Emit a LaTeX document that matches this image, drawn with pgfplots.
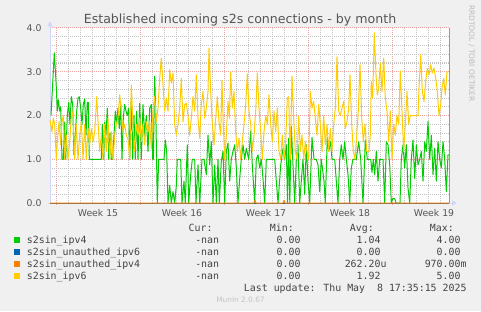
\documentclass[border=0pt]{standalone}
\usepackage{pgfplots}
\pgfplotsset{compat=1.18}
\usepackage{fontspec}
\setmainfont{DejaVu Sans}
\newfontfamily\monof{DejaVu Sans Mono}[WordSpace={1,0,0}]
\usetikzlibrary{arrows.meta}
\definecolor{bg}{HTML}{F0F0F0}
\definecolor{fontc}{HTML}{555555}
\definecolor{legc}{HTML}{444444}
\definecolor{rrdc}{HTML}{BBBBBB}
\definecolor{footc}{HTML}{C4C4C4}
\definecolor{mgrid}{RGB}{240,165,165}
\definecolor{mingrid}{RGB}{195,195,195}
\definecolor{axisc}{HTML}{CFD6F8}
\definecolor{cgreen}{HTML}{00CC00}
\definecolor{cblue}{HTML}{0066B3}
\definecolor{corange}{HTML}{FF8000}
\definecolor{cyellow}{HTML}{FFCC00}
\begin{document}
\begin{tikzpicture}
\path[use as bounding box] (0,0) rectangle (481pt,311pt);
\fill[bg] (0,0) rectangle (481pt,311pt);
\begin{axis}[
  at={(50pt,108pt)}, anchor=south west,
  scale only axis, width=399pt, height=175pt,
  xmin=50, xmax=449, ymin=0, ymax=4,
  clip=false,
  axis line style={draw=none},
  axis background/.style={fill=white},
  tick pos=left,
  tick align=outside,
  xtick={56,140,224,308,392}, xticklabels={},
  minor xtick={68,80,92,104,116,128,152,164,176,188,200,212,236,248,260,272,284,296,320,332,344,356,368,380,404,416,428,440},
  extra x ticks={98,182,266,350,434},
  extra x tick labels={Week 15,Week 16,Week 17,Week 18,Week 19},
  extra x tick style={grid=none, major tick length=0pt},
  ytick={0,1,2,3,4}, yticklabels={0.0,1.0,2.0,3.0,4.0},
  minor ytick={0.2,0.4,0.6,0.8,1.2,1.4,1.6,1.8,2.2,2.4,2.6,2.8,3.2,3.4,3.6,3.8},
  grid=both,
  major grid style={draw=mgrid, line width=1pt, dash pattern=on 1pt off 1pt},
  minor grid style={draw=mingrid, line width=1pt, dash pattern=on 1pt off 1pt},
  major tick length=2pt, minor tick length=0pt,
  major tick style={draw=mgrid, line width=1pt},
  ytick style={draw=none},
  xticklabel style={font=\fontsize{9.3}{11}\selectfont, text=fontc, yshift=-2.5pt},
  yticklabel style={font=\fontsize{9.3}{11}\selectfont, text=fontc, xshift=-3pt},
  every axis plot/.append style={line width=1pt, line join=round},
  no markers,
]
\draw[axisc, line width=1pt, -{Triangle[length=5pt,width=5pt]}] (axis cs:50,0) -- (axis cs:50,4.15);
\draw[axisc, line width=1pt, -{Triangle[length=5pt,width=5pt]}] (axis cs:48,0) -- (axis cs:457,0);
\draw[gray!80, line width=1pt] (axis cs:449,0) -- (axis cs:449,4);
% s2sin_ipv4
\addplot[cgreen] coordinates {
(51,2.0)(54.3,3.43)(56.3,2.66)(57.3,2.1)(58.3,2.36)(59.7,2.1)(60.7,2.2)(62,1.0)(63.3,1.0)(64.7,1.85)(65.7,1.0)(67.3,2.0)(68.7,2.3)(70,1.8)(71.3,2.43)(72.7,2.25)(74,1.1)(75.3,1.55)(76.7,2.1)(78,2.4)(79.3,2.43)(80.7,2.17)(82,1.8)(83.3,2.25)(84.7,2.38)(86,1.55)(87.3,2.3)(88.3,2.3)(89.3,1.0)(101.3,1.0)(102.3,1.8)(103.7,1.0)(104.7,1.85)(106,1.55)(107.3,2.17)(108.7,1.0)(110,1.6)(111.3,1.0)(112.7,1.0)(114,1.55)(115.3,2.1)(116.7,1.8)(118,2.17)(119.3,1.7)(120.7,2.3)(122,1.0)(123.3,1.95)(124.7,2.25)(126,2.1)(127.3,2.0)(128.7,2.17)(129.7,1.0)(131.3,2.36)(132.7,1.0)(134,2.0)(135.3,1.0)(136.7,2.1)(138,1.0)(139.7,2.28)(141.3,1.0)(143,2.25)(144.7,1.55)(146.3,2.0)(148,1.18)(149.7,2.17)(151.3,2.25)(152.7,1.0)(153.3,1.0)(154.7,2.9)(156,1.8)(157.3,0)(158.7,1.0)(164,1.0)(165.3,1.44)(166.7,1.18)(168,0)(169.7,0.4)(171.3,0)(173,0.26)(174.7,0)(176.3,0.4)(177.3,1.0)(180.7,1.0)(182,0)(184,0.5)(185.3,0)(187.3,1.33)(188.7,0)(190.7,0.65)(192.3,1.0)(194.7,1.0)(196,0)(198,0.87)(199.7,0)(202,1.0)(204,1.0)(206.3,0.65)(208,1.55)(209.7,0.87)(211.3,1.4)(213,0)(214.7,0.87)(216.3,0)(218,1.0)(219.3,0)(221.3,0.95)(223,1.18)(224.7,0)(226.3,1.18)(228,1.37)(229.7,0.5)(231.3,1.0)(233,1.18)(234.7,1.33)(236.3,0.8)(238,0)(239.7,0.56)(241.3,1.0)(243,1.33)(244.7,1.0)(246.3,1.25)(248.7,1.0)(250.7,1.65)(252.3,0.87)(254.7,0)(256.3,1.0)(258,1.1)(259.7,0.8)(261.3,1.0)(263,0.56)(264.7,0)(266.3,1.0)(274.7,1.0)(276.3,0.5)(278,0)(280.7,0.87)(283,1.25)(284.7,1.0)(286.3,1.33)(287.5,0)(288.7,1.48)(289.8,0)(291.3,1.75)(293,0.87)(294.7,0)(296.3,1.0)(298,1.33)(299.7,0)(301.3,0.5)(303,1.0)(304.7,0.2)(306.3,1.33)(308,0.5)(309.7,0)(312,1.5)(314,1.0)(316.3,1.0)(318,0.87)(319.7,0.26)(321.3,1.0)(324,0.5)(325.3,0)(327.3,1.5)(328.7,1.18)(330.7,1.4)(332,1.0)(334.7,1.0)(336.3,0.5)(338,0)(339.7,1.0)(341.3,1.33)(343,1.0)(344.7,1.4)(346.3,1.0)(348,0.65)(349.7,0)(351.3,0.8)(353,1.0)(356.3,1.0)(358.7,1.4)(360.7,1.0)(363,0)(365.3,1.44)(367.3,1.0)(370.7,1.0)(372,0.7)(373.3,1.0)(374.7,0.65)(376.3,1.18)(378,0.5)(379.7,1.0)(383,1.0)(384.7,0)(386.3,1.4)(388,1.33)(389.7,0.87)(391.3,0)(392.7,0.1)(394.7,0.1)(396,0)(400,0)(401.3,1.0)(403,1.33)(404.7,0.8)(406.3,1.33)(408,0.34)(409.7,0)(411.3,1.0)(413,1.44)(414.7,0.56)(416.3,1.33)(418,0.87)(419.7,1.0)(421.3,1.18)(423,0.5)(424.7,1.4)(426.3,1.18)(428,1.86)(429.7,1.0)(431.3,1.55)(433,0.65)(434.7,1.25)(436.3,0.5)(438,1.4)(439.7,1.0)(441.3,0.8)(443,1.4)(444.7,1.0)(446.3,0.26)(448,1.1)(449,1.1)
};
% s2sin_unauthed_ipv6
\addplot[cblue] coordinates {(50,0)(449,0)};
% s2sin_unauthed_ipv4
\addplot[corange] coordinates {(50,0)(254,0)(255,0.06)(256,0)(283,0)(284,0.06)(285,0)(449,0)};
% s2sin_ipv6
\addplot[cyellow] coordinates {
(50,1.9)(52,1.63)(53.3,1.94)(54.7,1.8)(56.3,1.0)(57.3,1.4)(59,1.86)(60.7,1.33)(62,1.86)(63.3,2.0)(64.7,1.0)(66.3,1.55)(68,1.0)(69.7,1.4)(71.3,1.94)(73,2.1)(74.7,1.0)(76.3,1.8)(78,1.0)(79.7,1.55)(81.3,1.86)(83,1.0)(84.7,1.8)(86.3,1.0)(88,1.7)(89.7,1.33)(91.3,1.7)(93,1.4)(94.7,1.63)(96.7,2.43)(98,1.86)(99.7,1.18)(101.3,1.55)(103,1.0)(104.7,1.8)(106.3,1.18)(108,1.94)(109.7,1.0)(111.3,1.63)(113,1.0)(114.7,1.55)(116.3,1.8)(118,1.94)(119.7,2.47)(121.3,2.1)(123,1.63)(124.7,1.8)(126.3,1.55)(128,1.45)(129.7,1.0)(131.3,2.7)(133,1.8)(134.7,1.18)(136.3,1.8)(138,1.55)(139.7,1.94)(141.3,1.4)(143,1.8)(144.7,1.33)(146.3,1.86)(148,1.63)(149.7,1.86)(151.3,1.25)(153,2.1)(154.7,2.43)(156.3,1.86)(158,2.17)(159.7,2.85)(161.3,3.31)(163,2.7)(164.7,2.1)(166.3,2.4)(168,2.1)(169.7,3.05)(171.3,2.74)(173,2.97)(174.7,1.8)(176.3,1.55)(178,1.8)(179.7,2.17)(181.3,2.85)(183,1.86)(184.7,2.25)(186.3,2.28)(188,2.0)(189.7,1.55)(191.3,1.94)(193,2.43)(194.7,2.1)(196.3,2.93)(198,1.94)(199.7,1.48)(201.3,2.25)(203,2.55)(204.7,1.94)(206.3,2.17)(208,2.55)(209,3.54)(210.7,2.55)(212,1.94)(214,1.33)(215.3,1.8)(217.3,2.43)(219,1.86)(220.7,1.55)(222,2.8)(223.3,1.8)(224.7,1.0)(226.3,1.55)(228,2.32)(229.3,1.94)(230.7,3.0)(232.3,2.17)(234,2.55)(235.7,1.63)(237.3,1.18)(239,1.48)(240.7,1.0)(242.3,1.4)(244,1.8)(245.7,2.25)(247.3,2.95)(249,2.1)(250.7,1.8)(252.3,1.18)(254,1.55)(255.7,2.1)(257.3,2.97)(259,2.17)(260.7,1.63)(262.3,1.0)(264,1.63)(265.7,2.0)(267.3,1.8)(269,2.47)(270.7,1.8)(272.3,1.4)(274,2.1)(275.7,1.63)(277.3,2.17)(279,1.18)(280.7,1.0)(282.3,1.55)(284,1.0)(285.7,1.4)(287.3,2.4)(288.7,2.43)(290.3,1.0)(292,2.9)(293.7,1.94)(295.3,1.18)(297,1.0)(298.7,1.98)(300.3,1.18)(302,1.55)(303.7,1.0)(305.3,1.4)(307,1.18)(308.7,1.0)(310.3,2.55)(312,2.17)(313.7,2.32)(315.3,1.94)(317,1.55)(318.7,2.25)(320.3,1.8)(322,1.18)(323.7,2.0)(325.3,1.33)(327,1.8)(328.7,1.18)(330.3,1.7)(332,1.18)(333.7,1.8)(335.3,2.17)(337,3.34)(338.7,2.1)(340.3,2.0)(342,2.17)(343.7,2.32)(345.3,1.7)(347,1.86)(348.7,2.17)(350,2.93)(351.7,1.8)(353.3,1.18)(355,1.0)(356.7,1.55)(358.3,2.1)(360,3.16)(361.7,1.94)(363.3,1.4)(365,1.8)(366.7,1.18)(369,1.18)(370.3,1.55)(371.3,2.78)(372.7,2.4)(374.3,3.89)(376,2.93)(377.3,2.47)(378.7,2.63)(380.3,3.2)(382,2.55)(383.7,3.31)(385.3,2.4)(387,2.1)(388.7,1.4)(390.3,2.1)(392,1.0)(393.7,1.8)(395.3,1.55)(397,2.0)(398.7,1.8)(400.3,3.02)(402,2.1)(403.7,1.18)(405.3,1.8)(407,2.55)(408.7,1.8)(410.3,2.0)(416.3,2.0)(418,2.0)(419,2.63)(420.7,3.39)(422.3,2.55)(424,2.32)(425.7,2.78)(427.3,3.08)(429,2.93)(430.7,3.16)(432.3,2.97)(434,3.08)(435.7,2.85)(437.3,2.55)(439,2.0)(440.7,2.25)(442,2.63)(443.7,2.85)(445.3,2.47)(447,3.0)(448.7,3.0)
};
\end{axis}
% title and side texts
\node[anchor=base, inner sep=0, font=\fontsize{12.6}{14}\selectfont, text=fontc] at (240pt,287pt) {Established incoming s2s connections - by month};
\node[rotate=-90, inner sep=0, font=\fontsize{7.5}{9}\selectfont, text=rrdc] at (471.5pt,257.5pt) {RRDTOOL / TOBI OETIKER};
\node[anchor=base, inner sep=0, font=\fontsize{7.4}{9}\selectfont, text=footc] at (240.5pt,8.3pt) {Munin 2.0.67};
% legend
\begin{scope}[every node/.style={inner sep=0, font=\monof\fontsize{9.9}{11}\selectfont, text=legc}]
\node[anchor=base east] at (212.7pt,80pt) {Cur:};
\node[anchor=base east] at (294pt,80pt) {Min:};
\node[anchor=base east] at (374pt,80pt) {Avg:};
\node[anchor=base east] at (454pt,80pt) {Max:};
\fill[cgreen] (14pt,67.7pt) rectangle (20pt,73.7pt);
\fill[cblue] (14pt,55.7pt) rectangle (20pt,61.7pt);
\fill[corange] (14pt,43.7pt) rectangle (20pt,49.7pt);
\fill[cyellow] (14pt,31.7pt) rectangle (20pt,37.7pt);
\node[anchor=base west] at (26.7pt,67.7pt) {s2sin\_ipv4};
\node[anchor=base west] at (26.7pt,55.7pt) {s2sin\_unauthed\_ipv6};
\node[anchor=base west] at (26.7pt,43.7pt) {s2sin\_unauthed\_ipv4};
\node[anchor=base west] at (26.7pt,31.7pt) {s2sin\_ipv6};
\node[anchor=base east] at (219.3pt,67.7pt) {-nan};
\node[anchor=base east] at (219.3pt,55.7pt) {-nan};
\node[anchor=base east] at (219.3pt,43.7pt) {-nan};
\node[anchor=base east] at (219.3pt,31.7pt) {-nan};
\node[anchor=base east] at (300.7pt,67.7pt) {0.00};
\node[anchor=base east] at (300.7pt,55.7pt) {0.00};
\node[anchor=base east] at (300.7pt,43.7pt) {0.00};
\node[anchor=base east] at (300.7pt,31.7pt) {0.00};
\node[anchor=base east] at (380.7pt,67.7pt) {1.04};
\node[anchor=base east] at (380.7pt,55.7pt) {0.00};
\node[anchor=base east] at (386.7pt,43.7pt) {262.20u};
\node[anchor=base east] at (380.7pt,31.7pt) {1.92};
\node[anchor=base east] at (460.7pt,67.7pt) {4.00};
\node[anchor=base east] at (460.7pt,55.7pt) {0.00};
\node[anchor=base east] at (466.7pt,43.7pt) {970.00m};
\node[anchor=base east] at (460.7pt,31.7pt) {5.00};
\node[anchor=base east] at (466.7pt,19.7pt) {Last update: Thu May~~8 17:35:15 2025};
\end{scope}
\end{tikzpicture}
\end{document}
